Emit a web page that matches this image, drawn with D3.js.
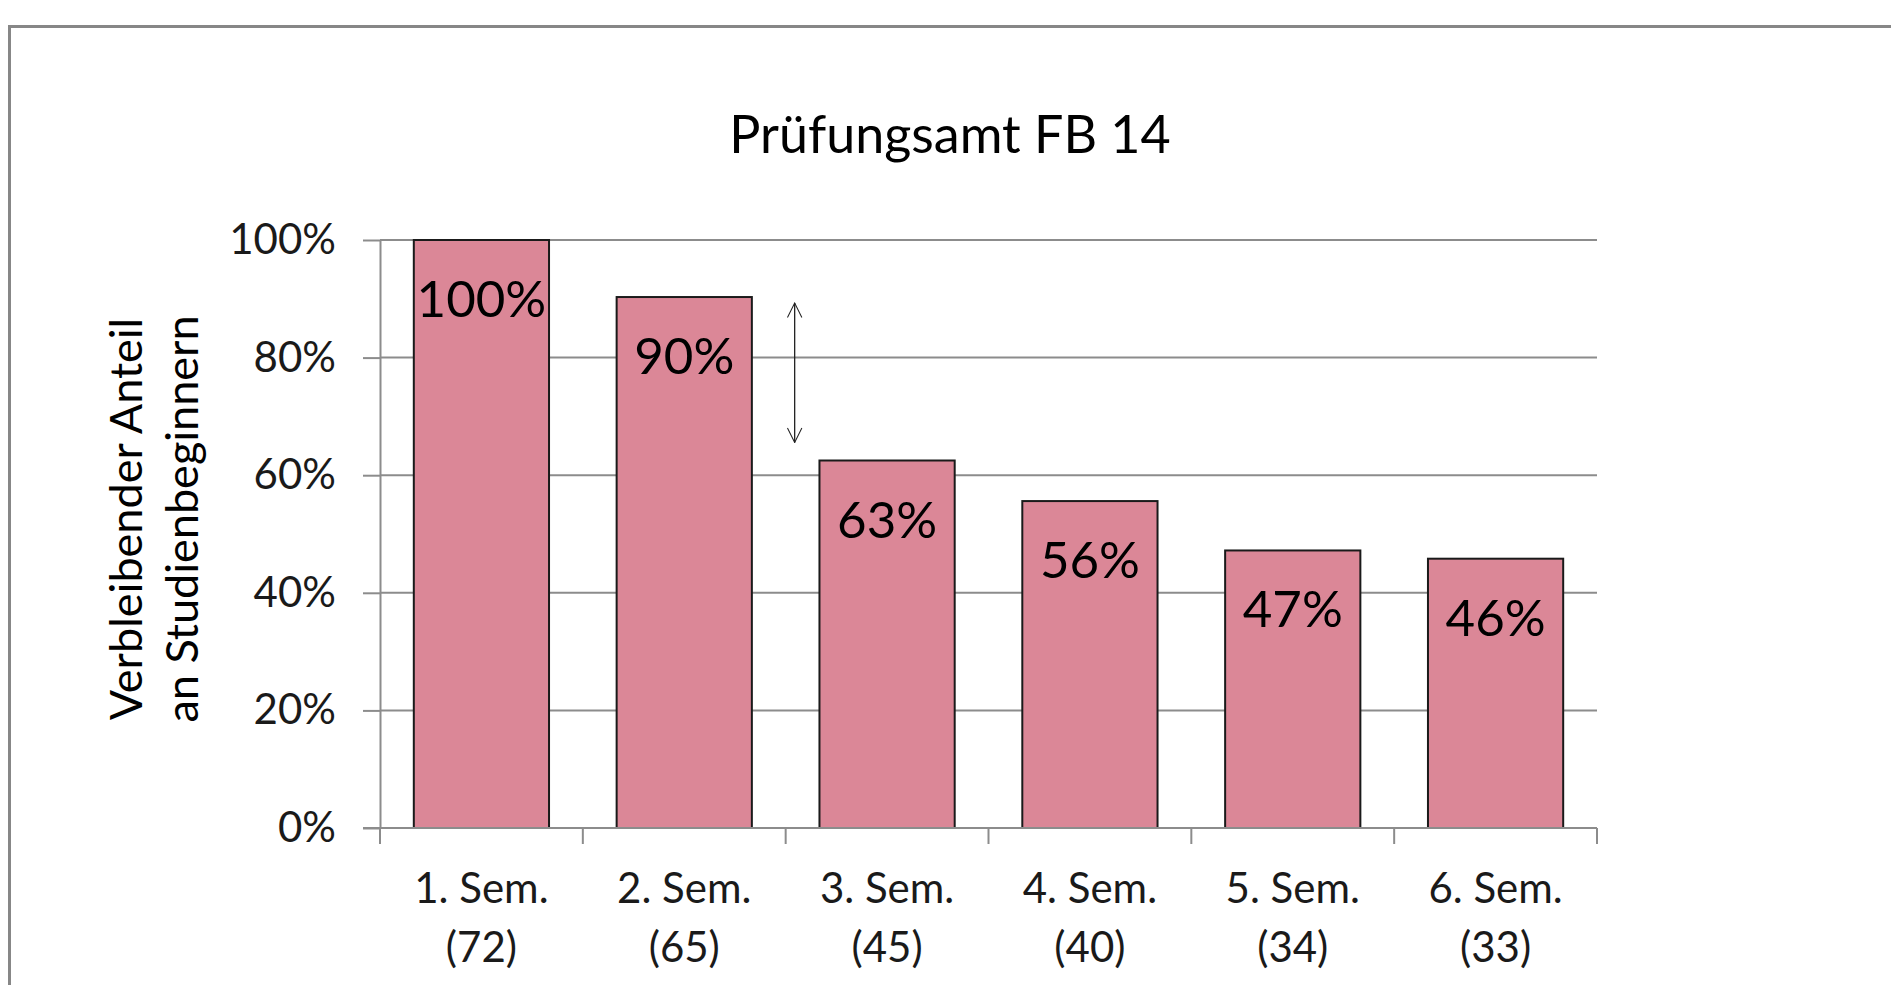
<!DOCTYPE html>
<html>
<head>
<meta charset="utf-8">
<script src="https://cdn.jsdelivr.net/npm/d3@7"></script>
<style>
  body { margin: 0; background: #fff; }
  svg { display: block; font-family: Lato, "Open Sans", sans-serif; }
</style>
</head>
<body>
<div id="chart"></div>
<script>
// Chart data
const semesters = ['1. Sem.', '2. Sem.', '3. Sem.', '4. Sem.', '5. Sem.', '6. Sem.'];
const students = [72, 65, 45, 40, 34, 33];
const shares = [1.0, 0.903, 0.625, 0.556, 0.472, 0.458];
const yTicks = [0, 0.2, 0.4, 0.6, 0.8, 1.0];
const titleText = 'Prüfungsamt FB 14';
const yTitleLines = ['Verbleibender Anteil', 'an Studienbeginnern'];

const width = 1891;
const height = 985;
const plot = { left: 380, right: 1597, top: 240, bottom: 828 };

const svg = d3.select('#chart')
  .append('svg')
  .attr('width', width)
  .attr('height', height);

// Outer chart frame (runs past the right and bottom edges)
svg.append('path')
  .attr('d', `M9.5,${height + 10} L9.5,26.5 L${width + 10},26.5`)
  .attr('fill', 'none')
  .attr('stroke', '#878787')
  .attr('stroke-width', 3);

// Scales
const x = d3.scaleBand()
  .domain(semesters)
  .range([plot.left, plot.right])
  .paddingInner(1 / 3)
  .paddingOuter(1 / 6);

const y = d3.scaleLinear()
  .domain([0, 1])
  .range([plot.bottom, plot.top]);

const gridColor = '#8c8c8c';

// Horizontal gridlines
svg.append('g')
  .attr('class', 'grid')
  .selectAll('line')
  .data(yTicks.filter(d => d > 0))
  .enter()
  .append('line')
  .attr('x1', plot.left)
  .attr('x2', plot.right)
  .attr('y1', d => y(d))
  .attr('y2', d => y(d))
  .attr('stroke', gridColor)
  .attr('stroke-width', 2);

// Y axis
const yAxis = svg.append('g')
  .attr('class', 'y-axis')
  .attr('transform', `translate(${plot.left},0)`)
  .call(d3.axisLeft(y)
    .tickValues(yTicks)
    .tickFormat(d3.format('.0%'))
    .tickSize(17)
    .tickSizeOuter(0)
    .tickPadding(27));

yAxis.select('.domain').attr('stroke', gridColor).attr('stroke-width', 2);
yAxis.selectAll('line').attr('stroke', gridColor).attr('stroke-width', 2);
yAxis.selectAll('text')
  .attr('fill', '#1a1a1a')
  .style('font-size', '42px')
  .style('font-family', 'Lato, sans-serif');

// Bars
const bars = svg.append('g').attr('class', 'bars');

bars.selectAll('rect')
  .data(shares)
  .enter()
  .append('rect')
  .attr('x', (d, i) => x(semesters[i]))
  .attr('y', d => y(d))
  .attr('width', x.bandwidth())
  .attr('height', d => y(0) - y(d))
  .attr('fill', '#db8797')
  .attr('stroke', '#1a1a1a')
  .attr('stroke-width', 2);

// Value labels inside the bars
bars.selectAll('text')
  .data(shares)
  .enter()
  .append('text')
  .attr('x', (d, i) => x(semesters[i]) + x.bandwidth() / 2)
  .attr('y', d => y(d) + 77)
  .attr('text-anchor', 'middle')
  .attr('fill', '#000')
  .style('font-size', '51px')
  .text(d => d3.format('.0%')(d));

// X axis line + category boundary ticks
const edge = (x.step() - x.bandwidth()) / 2;
const boundaries = semesters.map(s => x(s) - edge)
  .concat([x(semesters[semesters.length - 1]) + x.bandwidth() + edge]);

const xAxis = svg.append('g').attr('class', 'x-axis');

xAxis.append('line')
  .attr('x1', plot.left - 17)
  .attr('x2', plot.right)
  .attr('y1', y(0))
  .attr('y2', y(0))
  .attr('stroke', gridColor)
  .attr('stroke-width', 2);

xAxis.selectAll('.tick-mark')
  .data(boundaries)
  .enter()
  .append('line')
  .attr('class', 'tick-mark')
  .attr('x1', d => d)
  .attr('x2', d => d)
  .attr('y1', y(0))
  .attr('y2', y(0) + 16)
  .attr('stroke', gridColor)
  .attr('stroke-width', 2);

const xLabels = xAxis.selectAll('.x-label')
  .data(semesters)
  .enter()
  .append('text')
  .attr('class', 'x-label')
  .attr('text-anchor', 'middle')
  .attr('fill', '#1a1a1a')
  .style('font-size', '42px');

xLabels.append('tspan')
  .attr('x', d => x(d) + x.bandwidth() / 2)
  .attr('y', 903)
  .text(d => d);

xLabels.append('tspan')
  .attr('x', d => x(d) + x.bandwidth() / 2)
  .attr('y', 962)
  .text((d, i) => `(${students[i]})`);

// Chart title
svg.append('text')
  .attr('x', 950)
  .attr('y', 153)
  .attr('text-anchor', 'middle')
  .attr('fill', '#000')
  .style('font-size', '52px')
  .text(titleText);

// Y axis title (two lines, rotated)
const yTitle = svg.append('text')
  .attr('transform', `translate(0, 519) rotate(-90)`)
  .attr('text-anchor', 'middle')
  .attr('fill', '#000')
  .style('font-size', '45px');

yTitle.selectAll('tspan')
  .data(yTitleLines)
  .enter()
  .append('tspan')
  .attr('x', 0)
  .attr('y', (d, i) => 142 + i * 56)
  .text(d => d);

// Double-headed arrow marking the drop between 2nd and 3rd semester
const defs = svg.append('defs');
['start', 'end'].forEach(kind => {
  defs.append('marker')
    .attr('id', `arrow-${kind}`)
    .attr('viewBox', '0 0 20 20')
    .attr('refX', 19)
    .attr('refY', 10)
    .attr('markerWidth', 16)
    .attr('markerHeight', 16)
    .attr('markerUnits', 'userSpaceOnUse')
    .attr('orient', kind === 'start' ? 'auto-start-reverse' : 'auto')
    .append('path')
    .attr('d', 'M1,1 L19,10 L1,19')
    .attr('fill', 'none')
    .attr('stroke', '#222')
    .attr('stroke-width', 1.3);
});

const arrowX = boundaries[2] + 9;
svg.append('line')
  .attr('x1', arrowX)
  .attr('x2', arrowX)
  .attr('y1', y(shares[1]) + 6)
  .attr('y2', y(shares[2]) - 18)
  .attr('stroke', '#222')
  .attr('stroke-width', 1.3)
  .attr('marker-start', 'url(#arrow-start)')
  .attr('marker-end', 'url(#arrow-end)');
</script>
</body>
</html>
